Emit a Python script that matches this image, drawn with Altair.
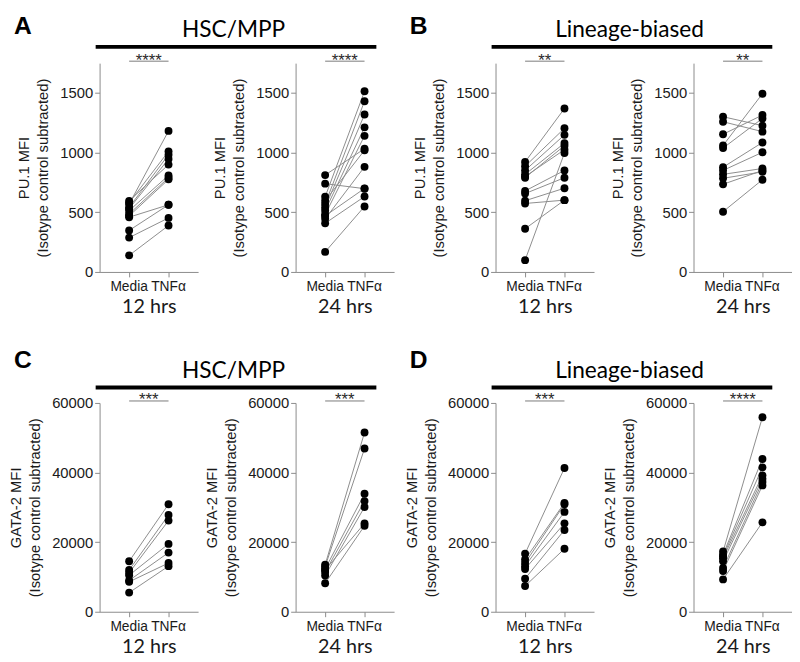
import altair as alt
import pandas as pd

CONDS = ["Media", "TNFα"]
PU_TITLE = ["PU.1 MFI", "(Isotype control subtracted)"]
GATA_TITLE = ["GATA-2 MFI", "(Isotype control subtracted)"]
PU_TICKS = [0, 500, 1000, 1500]
GATA_TICKS = [0, 20000, 40000, 60000]

# Panel A: HSC/MPP, PU.1
A12_media = [596, 580, 569, 541, 530, 514, 486, 470, 459, 348, 288, 139]
A12_tnf = [900, 1011, 1182, 983, 947, 809, 790, 776, 563, 563, 453, 389]
A24_media = [812, 740, 630, 597, 569, 541, 514, 481, 445, 408, 168, 470]
A24_tnf = [1033, 698, 1514, 1020, 1431, 1320, 1212, 1141, 881, 632, 549, 700]
# Panel B: Lineage-biased, PU.1
B12_media = [922, 886, 851, 818, 800, 790, 679, 657, 597, 574, 362, 99]
B12_tnf = [1370, 1204, 1149, 1080, 1025, 1058, 851, 790, 702, 602, 602, 997]
B24_media = [1301, 1259, 1154, 1060, 1038, 878, 851, 818, 785, 735, 505]
B24_tnf = [1226, 1176, 1315, 1494, 1287, 1085, 1003, 867, 839, 850, 773]
# Panel C: HSC/MPP, GATA-2
C12_media = [14500, 12000, 11200, 10500, 9000, 8600, 5500]
C12_tnf = [30900, 27800, 26200, 19500, 17000, 14000, 13100]
C24_media = [13500, 13000, 12300, 11400, 10400, 12000, 8200]
C24_tnf = [51500, 46900, 33900, 31800, 30100, 25400, 24700]
# Panel D: Lineage-biased, GATA-2
D12_media = [16700, 15000, 14000, 13100, 12300, 9500, 7400]
D12_tnf = [41300, 31300, 30900, 28700, 25400, 23500, 18100]
D24_media = [17300, 16400, 15900, 15400, 14500, 12600, 11700, 9300]
D24_tnf = [55900, 43900, 41500, 39200, 38200, 37300, 36300, 25700]

LINE_GRAY = "#8c8c8c"
AXIS_GRAY = "#8a8a8a"
W, H = 100, 212
GAP_IN = 99      # gap between the two panels of a group
GAP_GROUP = 103  # gap between groups
GAP_ROW = 133    # gap between rows


def make_panel(media, tnf, ymax, yticks, ytitle, xtitle, stars,
               letter=None, group=None, offs=(-30, -27, -16.5)):
    n = len(media)
    df = pd.DataFrame({
        "pair": list(range(n)) * 2,
        "cond": ["Media"] * n + ["TNFα"] * n,
        "value": media + tnf,
    })
    x = alt.X("cond:N", sort=CONDS,
              scale=alt.Scale(domain=CONDS, padding=0.5),
              axis=alt.Axis(title=xtitle, labelAngle=0, labelFontSize=14,
                            labelPadding=3, titleFont="Lato", titleFontSize=20,
                            titlePadding=3))
    y = alt.Y("value:Q",
              scale=alt.Scale(domain=[0, ymax], nice=False, zero=True),
              axis=alt.Axis(title=ytitle, values=yticks, format="d",
                            labelFontSize=15, labelPadding=2, titleFontSize=15,
                            titleLineHeight=20, titlePadding=9))
    base = alt.Chart(df)
    lines = base.mark_line(color=LINE_GRAY, strokeWidth=1).encode(
        x=x, y=y, detail="pair:N")
    pts = base.mark_circle(size=64, color="black", opacity=1).encode(x=x, y=y)

    sig_df = pd.DataFrame({"cond": ["Media"], "cond2": ["TNFα"], "stars": [stars]})
    sig = alt.Chart(sig_df).mark_rule(color="#7a7a7a", strokeWidth=1).encode(
        x=x, x2="cond2", y=alt.value(-2))
    star = alt.Chart(sig_df).mark_text(
        font="Liberation Sans", fontSize=17, color="#2a2a2a",
        align="center", baseline="alphabetic").encode(
        x=alt.value(W / 2), y=alt.value(2.5), text="stars:N")
    layers = [lines, pts, sig, star]

    if letter is not None:
        ly, ty, by = offs
        lt = alt.Chart(sig_df).mark_text(
            text=letter, font="Liberation Sans", fontWeight="bold", fontSize=25,
            color="black", align="left", baseline="alphabetic").encode(
            x=alt.value(-87), y=alt.value(ly))
        gt = alt.Chart(sig_df).mark_text(
            text=group, font="Lato", fontSize=23, color="black",
            align="center", baseline="alphabetic").encode(
            x=alt.value(136), y=alt.value(ty))
        bar = alt.Chart(sig_df).mark_rule(color="black", strokeWidth=4).encode(
            x=alt.value(-4), x2=alt.value(281), y=alt.value(by))
        layers += [lt, gt, bar]

    return alt.layer(*layers).properties(width=W, height=H)


A1 = make_panel(A12_media, A12_tnf, 1750, PU_TICKS, PU_TITLE, "12 hrs", "****",
                letter="A", group="HSC/MPP")
A2 = make_panel(A24_media, A24_tnf, 1750, PU_TICKS, PU_TITLE, "24 hrs", "****")
B1 = make_panel(B12_media, B12_tnf, 1750, PU_TICKS, PU_TITLE, "12 hrs", "**",
                letter="B", group="Lineage-biased")
B2 = make_panel(B24_media, B24_tnf, 1750, PU_TICKS, PU_TITLE, "24 hrs", "**")
C1 = make_panel(C12_media, C12_tnf, 60000, GATA_TICKS, GATA_TITLE, "12 hrs", "***",
                letter="C", group="HSC/MPP", offs=(-35, -25, -15.7))
C2 = make_panel(C24_media, C24_tnf, 60000, GATA_TICKS, GATA_TITLE, "24 hrs", "***")
D1 = make_panel(D12_media, D12_tnf, 60000, GATA_TICKS, GATA_TITLE, "12 hrs", "***",
                letter="D", group="Lineage-biased", offs=(-35, -25, -15.7))
D2 = make_panel(D24_media, D24_tnf, 60000, GATA_TICKS, GATA_TITLE, "24 hrs", "****")

# With flush bounds a nested concat counts as zero-size, so the outer
# spacing carries the full offset from one group's origin to the next.
GROUP_STEP = W + GAP_IN + W + GAP_GROUP
ROW_STEP = H + GAP_ROW

top = alt.hconcat(alt.hconcat(A1, A2, spacing=GAP_IN, bounds="flush"),
                  alt.hconcat(B1, B2, spacing=GAP_IN + 2, bounds="flush"),
                  spacing=GROUP_STEP, bounds="flush")
bot = alt.hconcat(alt.hconcat(C1, C2, spacing=GAP_IN, bounds="flush"),
                  alt.hconcat(D1, D2, spacing=GAP_IN + 2, bounds="flush"),
                  spacing=GROUP_STEP, bounds="flush")

chart = alt.vconcat(top, bot, spacing=ROW_STEP, bounds="flush").properties(
    padding={"left": 0, "top": 1, "right": 0, "bottom": 0},
    background="white",
).configure_view(stroke=None).configure_axis(
    grid=False, domainColor=AXIS_GRAY, tickColor=AXIS_GRAY, tickSize=5,
    labelColor="#1a1a1a", titleColor="#1a1a1a", labelFont="Liberation Sans",
    titleFont="Liberation Sans", titleFontWeight="normal",
)

chart.save("out.html", embed_options={"renderer": "svg", "actions": False})
